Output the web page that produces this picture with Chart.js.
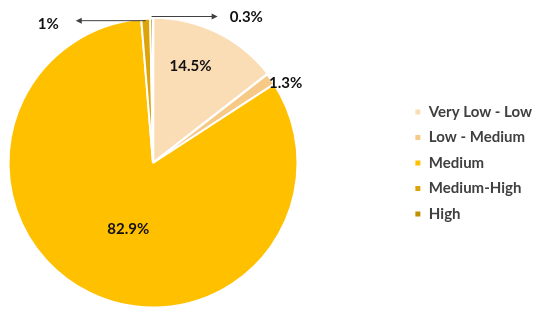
<!DOCTYPE html>
<html>
<head>
<meta charset="utf-8">
<script src="https://cdn.jsdelivr.net/npm/chart.js@4.4.1/dist/chart.umd.min.js"></script>
<style>
  html, body { margin: 0; padding: 0; background: #fff; }
  canvas { display: block; }
</style>
</head>
<body>
<canvas id="pieChart" width="550" height="316"></canvas>
<script>
// chart data
const categories = ['Very Low - Low', 'Low - Medium', 'Medium', 'Medium-High', 'High'];
const shares = [14.5, 1.3, 82.9, 1.0, 0.3];
const valueLabels = ['14.5%', '1.3%', '82.9%', '1%', '0.3%'];

// styling
const sliceColors = ['#FBDDB5', '#F7C987', '#FFC000', '#DDA30A', '#BF8F00'];

// where each value label sits: inside/outside by radius fraction,
// or pulled out horizontally with an arrow for the thin slices
const labelSpots = [
    { dist: 0.72, turn: -5 },
    { dist: 1.07, turn: 4.5 },
    { dist: 0.49, turn: -5.6 },
    { arrow: -70, lineDy: 2, textDy: 5, gap: 17 },
    { arrow: 66, lineDy: -2, textDy: -1, gap: 12 }
];

// keep the pie in the left part of the canvas, legend far right
const pieBox = {
    id: 'pieBox',
    afterLayout: function (chart) {
        const area = chart.chartArea;
        area.left = 6;
        area.right = 6 + area.height;
        area.width = area.right - area.left;
    }
};

const valueLabelPlugin = {
    id: 'valueLabels',
    afterDatasetsDraw: function (chart) {
        const ctx = chart.ctx;
        const arcs = chart.getDatasetMeta(0).data;
        ctx.save();
        ctx.font = 'bold 15px Lato';
        ctx.fillStyle = '#111';
        ctx.textBaseline = 'middle';
        arcs.forEach(function (arc, i) {
            const p = arc.getProps(['x', 'y', 'startAngle', 'endAngle', 'outerRadius'], true);
            const spot = labelSpots[i];
            let mid = (p.startAngle + p.endAngle) / 2;
            if (spot.arrow === undefined) {
                mid += (spot.turn || 0) * Math.PI / 180;
                const d = p.outerRadius * spot.dist;
                ctx.textAlign = 'center';
                ctx.fillText(valueLabels[i], p.x + Math.cos(mid) * d, p.y + Math.sin(mid) * d);
                return;
            }
            // arrow callout
            const x0 = p.x + Math.cos(mid) * p.outerRadius;
            const y0 = p.y + Math.sin(mid) * p.outerRadius + spot.lineDy;
            const x1 = x0 + spot.arrow;
            const dir = Math.sign(spot.arrow);
            ctx.strokeStyle = '#404040';
            ctx.lineWidth = 1;
            ctx.beginPath();
            ctx.moveTo(x0, y0);
            ctx.lineTo(x1 - dir * 4, y0);
            ctx.stroke();
            ctx.fillStyle = '#404040';
            ctx.beginPath();
            ctx.moveTo(x1, y0);
            ctx.lineTo(x1 - dir * 6, y0 - 3);
            ctx.lineTo(x1 - dir * 6, y0 + 3);
            ctx.closePath();
            ctx.fill();
            ctx.fillStyle = '#111';
            ctx.textAlign = dir < 0 ? 'right' : 'left';
            ctx.fillText(valueLabels[i], x1 + dir * spot.gap, y0 - spot.lineDy + spot.textDy);
        });
        ctx.restore();
    }
};

const ctx = document.getElementById('pieChart').getContext('2d');
window.pieChart = new Chart(ctx, {
    type: 'pie',
    data: {
        labels: categories,
        datasets: [{
            data: shares,
            backgroundColor: sliceColors,
            borderColor: '#fff',
            borderWidth: 2,
            offset: [3, 0, 0, 0, 0]
        }]
    },
    options: {
        responsive: false,
        animation: false,
        layout: {
            padding: { left: 0, top: 16, bottom: 6, right: 8 }
        },
        plugins: {
            tooltip: { enabled: false },
            legend: {
                position: 'right',
                labels: {
                    boxWidth: 7,
                    boxHeight: 7,
                    padding: 10.5,
                    color: '#404040',
                    font: { family: 'Lato', size: 15, weight: 'bold' }
                }
            }
        }
    },
    plugins: [pieBox, valueLabelPlugin]
});
</script>
</body>
</html>
